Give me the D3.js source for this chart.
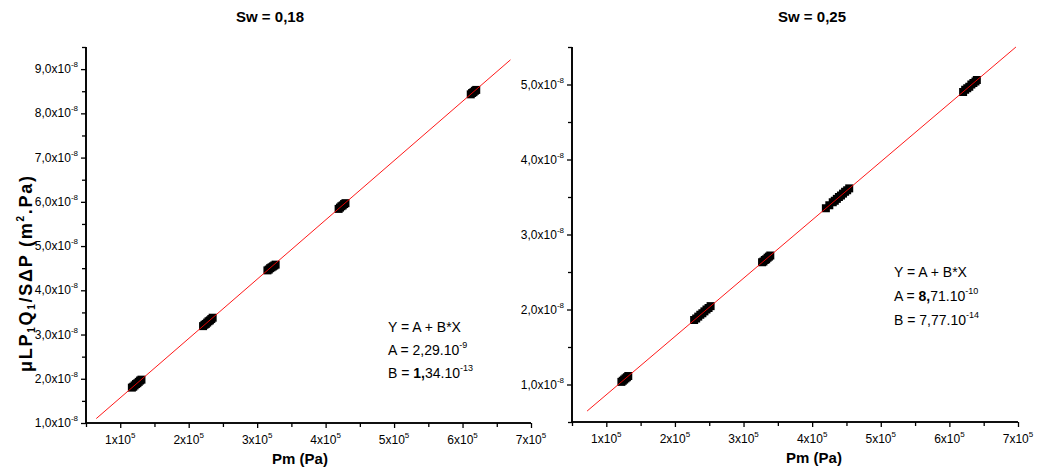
<!DOCTYPE html>
<html><head><meta charset="utf-8">
<script src="https://cdn.jsdelivr.net/npm/d3@7"></script>
<style>body{margin:0;background:#fff;} svg{display:block;font-family:"Liberation Sans",Arial,sans-serif;}</style>
</head><body>
<svg id="c" width="1041" height="472"></svg>
<script>
// ---------- data ----------
const titles = ["Sw = 0,18", "Sw = 0,25"];
const xTickValues = [1e5, 2e5, 3e5, 4e5, 5e5, 6e5, 7e5];
const xTickMantissa = ["1", "2", "3", "4", "5", "6", "7"];
const leftYTickValues = [1e-8, 2e-8, 3e-8, 4e-8, 5e-8, 6e-8, 7e-8, 8e-8, 9e-8];
const leftYTickLabels = ["1,0", "2,0", "3,0", "4,0", "5,0", "6,0", "7,0", "8,0", "9,0"];
const rightYTickValues = [1e-8, 2e-8, 3e-8, 4e-8, 5e-8];
const rightYTickLabels = ["1,0", "2,0", "3,0", "4,0", "5,0"];

const leftX = [1.17e5,1.19e5,1.21e5,1.23e5,1.25e5,1.27e5,1.29e5,1.31e5,
  2.21e5,2.23e5,2.25e5,2.27e5,2.29e5,2.31e5,2.33e5,2.35e5,
  3.15e5,3.17e5,3.19e5,3.21e5,3.23e5,3.25e5,3.27e5,
  4.19e5,4.21e5,4.23e5,4.25e5,4.27e5,4.29e5,
  6.12e5,6.14e5,6.16e5,6.18e5,6.20e5];
const leftY = [1.80e-8,1.82e-8,1.85e-8,1.88e-8,1.90e-8,1.93e-8,1.96e-8,1.98e-8,
  3.19e-8,3.22e-8,3.24e-8,3.27e-8,3.30e-8,3.32e-8,3.35e-8,3.38e-8,
  4.45e-8,4.47e-8,4.50e-8,4.52e-8,4.54e-8,4.56e-8,4.58e-8,
  5.84e-8,5.87e-8,5.90e-8,5.92e-8,5.95e-8,5.97e-8,
  8.43e-8,8.46e-8,8.48e-8,8.51e-8,8.53e-8];
const rightX = [1.22e5,1.24e5,1.26e5,1.28e5,1.30e5,1.32e5,
  2.28e5,2.31e5,2.34e5,2.37e5,2.40e5,2.43e5,2.46e5,2.49e5,2.52e5,
  3.27e5,3.29e5,3.31e5,3.33e5,3.35e5,3.37e5,3.39e5,
  4.20e5,4.25e5,4.30e5,4.33e5,4.36e5,4.39e5,4.42e5,4.45e5,4.48e5,4.51e5,4.54e5,
  6.20e5,6.23e5,6.26e5,6.29e5,6.32e5,6.35e5,6.38e5,6.40e5];
const rightY = [1.035e-8,1.05e-8,1.066e-8,1.082e-8,1.097e-8,1.113e-8,
  1.86e-8,1.88e-8,1.905e-8,1.93e-8,1.95e-8,1.975e-8,2.0e-8,2.02e-8,2.045e-8,
  2.63e-8,2.64e-8,2.66e-8,2.67e-8,2.69e-8,2.705e-8,2.72e-8,
  3.35e-8,3.39e-8,3.43e-8,3.45e-8,3.475e-8,3.50e-8,3.52e-8,3.545e-8,3.57e-8,3.59e-8,3.615e-8,
  4.90e-8,4.93e-8,4.95e-8,4.97e-8,5.00e-8,5.02e-8,5.04e-8,5.06e-8];
const leftFitX = [0.65e5, 6.7e5];
const leftFitY = [1.10e-8, 9.21e-8];
const rightFitX = [0.72e5, 6.97e5];
const rightFitY = [0.646e-8, 5.50e-8];

// ---------- layout ----------
const svg = d3.select("#c");
const panels = [
  {x0:86, x1:531, y0:423, y1:47, yDom:[1e-8, 9.5e-8], yMinorStep:0.5e-8,
   yt:leftYTickValues, yl:leftYTickLabels, px:leftX, py:leftY, fx:leftFitX, fy:leftFitY,
   title:titles[0], titleX:270, xLabX:300,
   ann:{x:388, y:[332,355,378], lines:[
     [["Y = A + B*X",""]],
     [["A = 2,29.10",""],["-9","sup"]],
     [["B = ",""],["1,","b"],["34.10",""],["-13","sup"]]]}},
  {x0:572, x1:1018, y0:422, y1:47, yDom:[0.5e-8, 5.5e-8], yMinorStep:0.5e-8,
   yt:rightYTickValues, yl:rightYTickLabels, px:rightX, py:rightY, fx:rightFitX, fy:rightFitY,
   title:titles[1], titleX:812, xLabX:814,
   ann:{x:894, y:[277,301,325], lines:[
     [["Y = A + B*X",""]],
     [["A = ",""],["8,","b"],["71.10",""],["-10","sup"]],
     [["B = 7,77.10",""],["-14","sup"]]]}}
];

panels.forEach((p) => {
  const x = d3.scaleLinear().domain([0.5e5, 7e5]).range([p.x0, p.x1]);
  const y = d3.scaleLinear().domain(p.yDom).range([p.y0, p.y1]);
  const g = svg.append("g");

  // points
  const s = 8;
  g.selectAll("rect.pt").data(p.px.map((v,i)=>[v,p.py[i]])).enter().append("rect")
    .attr("x", d => x(d[0]) - s/2).attr("y", d => y(d[1]) - s/2)
    .attr("width", s).attr("height", s).attr("fill", "#000");

  // fit line (drawn over the markers)
  g.append("line")
    .attr("x1", x(p.fx[0])).attr("y1", y(p.fy[0]))
    .attr("x2", x(p.fx[1])).attr("y2", y(p.fy[1]))
    .attr("stroke", "#ff0000").attr("stroke-width", 1).attr("opacity", 0.9);

  // x axis
  const xAxis = d3.axisBottom(x).tickValues(xTickValues).tickSize(5).tickFormat("");
  const xa = g.append("g").attr("transform", `translate(0,${p.y0})`).call(xAxis);
  const xMinor = d3.axisBottom(x).tickValues(d3.range(0.5e5, 7e5, 1e5)).tickSize(4).tickFormat("");
  const xm = g.append("g").attr("transform", `translate(0,${p.y0})`).call(xMinor);
  [xa, xm].forEach(a => {
    a.select(".domain").attr("stroke", "#000").attr("stroke-width", 1.6).attr("d", `M${p.x0},0H${p.x1}`);
    a.selectAll(".tick line").attr("stroke", "#000").attr("stroke-width", 1.3);
  });
  xTickValues.forEach((v,i) => {
    const t = g.append("text").attr("x", x(v)).attr("y", p.y0 + 21)
      .attr("text-anchor", "middle").attr("font-size", 12).attr("fill", "#000");
    t.append("tspan").text(xTickMantissa[i] + "x10");
    t.append("tspan").attr("dy", -6).attr("font-size", 8).text("5");
  });
  g.append("text").attr("x", p.xLabX).attr("y", p.y0 + 41).attr("text-anchor", "middle")
    .attr("font-size", 15).attr("font-weight", "bold").text("Pm (Pa)");

  // y axis
  const yAxis = d3.axisLeft(y).tickValues(p.yt).tickSize(5).tickFormat("");
  const ya = g.append("g").attr("transform", `translate(${p.x0},0)`).call(yAxis);
  const minorVals = d3.range(p.yDom[0], p.yDom[1] + 1e-12, p.yMinorStep)
    .filter(v => !p.yt.some(t => Math.abs(t - v) < 1e-12));
  const ym = g.append("g").attr("transform", `translate(${p.x0},0)`)
    .call(d3.axisLeft(y).tickValues(minorVals).tickSize(4).tickFormat(""));
  [ya, ym].forEach(a => {
    a.select(".domain").attr("stroke", "#000").attr("stroke-width", 1.6).attr("d", `M0,${p.y0}V${p.y1}`);
    a.selectAll(".tick line").attr("stroke", "#000").attr("stroke-width", 1.3);
  });
  p.yt.forEach((v,i) => {
    const t = g.append("text").attr("x", p.x0 - 8).attr("y", y(v) + 4)
      .attr("text-anchor", "end").attr("font-size", 12).attr("fill", "#000");
    t.append("tspan").text(p.yl[i] + "x10");
    t.append("tspan").attr("dy", -6).attr("font-size", 8).text("-8");
  });

  // title
  g.append("text").attr("x", p.titleX).attr("y", 22).attr("text-anchor", "middle")
    .attr("font-size", 15).attr("font-weight", "bold").text(p.title);

  // annotation
  p.ann.lines.forEach((parts, li) => {
    const t = g.append("text").attr("x", p.ann.x).attr("y", p.ann.y[li])
      .attr("font-size", 14).attr("fill", "#000");
    parts.forEach(([txt, st]) => {
      const ts = t.append("tspan").text(txt);
      if (st === "sup") ts.attr("dy", -7).attr("font-size", 9);
      else if (st === "b") ts.attr("font-weight", "bold");
    });
  });
});

// left y-axis title
const yl = svg.append("text").attr("transform", "translate(32,274) rotate(-90)")
  .attr("text-anchor", "middle").attr("font-size", 18).attr("font-weight", "bold")
  .attr("textLength", 196).attr("lengthAdjust", "spacing");
yl.append("tspan").text("\u03BCLP");
yl.append("tspan").attr("dy", 3).attr("font-size", 10).text("1");
yl.append("tspan").attr("dy", -3).text("Q");
yl.append("tspan").attr("dy", 3).attr("font-size", 10).text("1");
yl.append("tspan").attr("dy", -3).text("/S\u0394P (m");
yl.append("tspan").attr("dy", -8).attr("font-size", 10).text("2");
yl.append("tspan").attr("dy", 8).text(".Pa)");
</script>
</body></html>
